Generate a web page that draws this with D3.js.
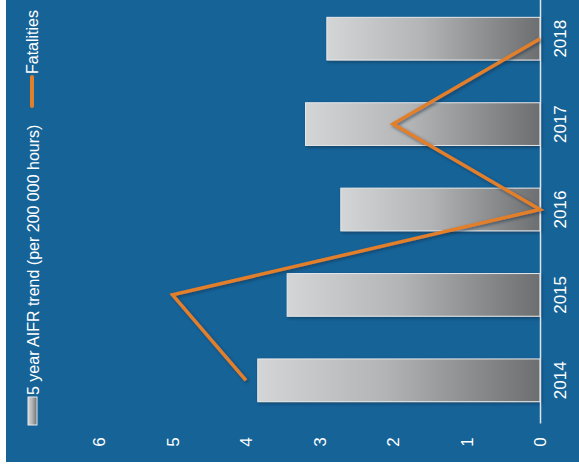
<!DOCTYPE html>
<html>
<head>
<meta charset="utf-8">
<script src="https://cdn.jsdelivr.net/npm/d3@7/dist/d3.min.js"></script>
<style>
  html, body { margin: 0; padding: 0; background: #ffffff; }
  svg { display: block; }
  text { font-family: "Liberation Sans", Arial, sans-serif; fill: #ffffff; }
</style>
</head>
<body>
<svg id="chart" width="579" height="474"></svg>
<script>
const categories = ["2014", "2015", "2016", "2017", "2018"];
const aifrTrend = [3.84, 3.44, 2.71, 3.19, 2.90];
const fatalities = [4, 5, 0, 2, 0];
const valueTicks = [0, 1, 2, 3, 4, 5, 6];
const legendLabels = ["5 year AIFR trend (per 200 000 hours)", "Fatalities"];

const svg = d3.select("#chart");
const defs = svg.append("defs");

const grad = defs.append("linearGradient").attr("id", "barGrad")
  .attr("x1", 0).attr("y1", 0).attr("x2", 1).attr("y2", 0);
grad.append("stop").attr("offset", "0%").attr("stop-color", "#d4d5d6");
grad.append("stop").attr("offset", "45%").attr("stop-color", "#b2b4b5");
grad.append("stop").attr("offset", "100%").attr("stop-color", "#6c6e70");

const shadow = defs.append("filter").attr("id", "shadow")
  .attr("x", "-20%").attr("y", "-20%").attr("width", "140%").attr("height", "140%");
shadow.append("feDropShadow").attr("dx", 1.5).attr("dy", 1.5).attr("stdDeviation", 1.5)
  .attr("flood-color", "#0a2a45").attr("flood-opacity", 0.6);

// background panel
svg.append("rect").attr("x", 6).attr("y", 0).attr("width", 573).attr("height", 462)
  .attr("fill", "#166398");

const x = d3.scaleLinear().domain([0, 6]).range([540, 99]);
const y = d3.scaleBand().domain(categories).range([423, -4]).paddingInner(0.5).paddingOuter(0.25);

// bars
svg.append("g").selectAll("rect").data(categories).join("rect")
  .attr("x", (d, i) => x(aifrTrend[i]))
  .attr("y", d => y(d))
  .attr("width", (d, i) => x(0) - x(aifrTrend[i]))
  .attr("height", y.bandwidth())
  .attr("fill", "url(#barGrad)")
  .attr("stroke", "#e6e8ea")
  .attr("stroke-width", 1)
  .attr("filter", "url(#shadow)");

// category axis (right side, vertical line at 0)
const catAxis = d3.axisRight(y).tickSize(0).tickSizeOuter(0).tickPadding(0);
const gc = svg.append("g").attr("transform", `translate(${x(0)},0)`).call(catAxis);
gc.select(".domain").attr("stroke", "#dfe4ea").attr("stroke-width", 1.5);
gc.selectAll(".tick text")
  .attr("x", 0).attr("dy", null)
  .attr("transform", "translate(20,0) rotate(-90)")
  .attr("text-anchor", "middle")
  .attr("dominant-baseline", "central")
  .attr("fill", "#ffffff")
  .style("font-size", "17px");

// value axis labels (bottom)
const valAxis = d3.axisBottom(x).tickValues(valueTicks).tickSize(0).tickPadding(0)
  .tickFormat(d3.format("d"));
const gv = svg.append("g").attr("transform", "translate(0,442)").call(valAxis);
gv.select(".domain").remove();
gv.selectAll(".tick text")
  .attr("y", 0).attr("dy", null)
  .attr("transform", "rotate(-90)")
  .attr("text-anchor", "middle")
  .attr("dominant-baseline", "central")
  .attr("fill", "#ffffff")
  .style("font-size", "17px");

// fatalities line
const line = d3.line()
  .x((d, i) => x(d))
  .y((d, i) => y(categories[i]) + y.bandwidth() / 2);
svg.append("path").datum(fatalities)
  .attr("d", line)
  .attr("fill", "none")
  .attr("stroke", "#e27f2c")
  .attr("stroke-width", 3.5)
  .attr("stroke-linejoin", "miter")
  .attr("filter", "url(#shadow)");

// legend
const lg = svg.append("g");
lg.append("rect").attr("x", 28).attr("y", 397).attr("width", 9).attr("height", 28)
  .attr("fill", "url(#barGrad)").attr("stroke", "#e6e8ea").attr("stroke-width", 1);
lg.append("text").attr("transform", "translate(33,395) rotate(-90)")
  .attr("text-anchor", "start").attr("dominant-baseline", "central")
  .style("font-size", "16px").text(legendLabels[0]);
lg.append("line").attr("x1", 32).attr("x2", 32).attr("y1", 106).attr("y2", 77)
  .attr("stroke", "#e27f2c").attr("stroke-width", 4).attr("stroke-linecap", "round");
lg.append("text").attr("transform", "translate(32,74) rotate(-90)")
  .attr("text-anchor", "start").attr("dominant-baseline", "central")
  .style("font-size", "16px").text(legendLabels[1]);
</script>
</body>
</html>
